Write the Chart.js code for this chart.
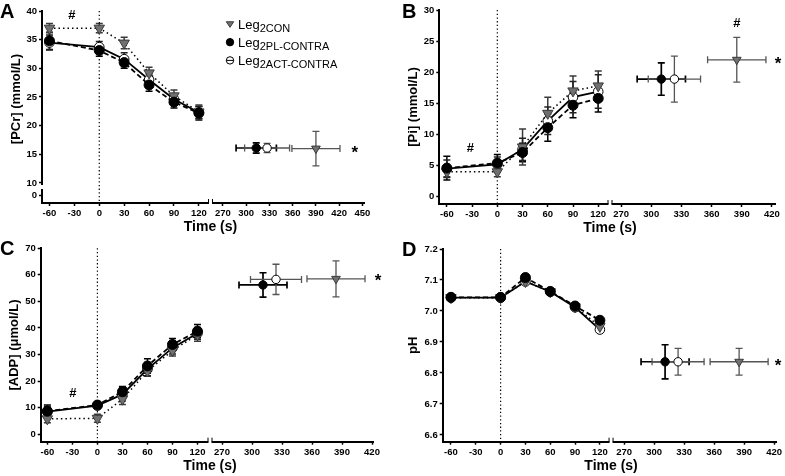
<!DOCTYPE html>
<html>
<head>
<meta charset="utf-8">
<script src="https://cdn.jsdelivr.net/npm/chart.js@4.4.1/dist/chart.umd.min.js"></script>
<style>
  html, body { margin: 0; padding: 0; background: #fff; }
  #wrap { position: relative; width: 785px; height: 476px; overflow: hidden; }
  canvas { position: absolute; }
</style>
</head>
<body>
<div id="wrap">
  <canvas id="cA" width="392" height="238" style="left:0;top:0"></canvas>
  <canvas id="cB" width="393" height="238" style="left:392px;top:0"></canvas>
  <canvas id="cC" width="392" height="238" style="left:0;top:238px"></canvas>
  <canvas id="cD" width="393" height="238" style="left:392px;top:238px"></canvas>
</div>
<script>
// ---------- données ----------
const timePts = [-60, 0, 30, 60, 90, 120];
const ticksLeft = [-60, -30, 0, 30, 60, 90, 120];
const ticksRightA = [270, 300, 330, 360, 390, 420, 450];
const ticksRight = [270, 300, 330, 360, 390, 420];
// points de fin : ordre PL, ACT, CON

// A - PCr
const pcrCon = [37.0, 37.0, 34.4, 29.2, 25.2, 22.4];
const pcrConErr = [0.8, 0.8, 1.0, 1.0, 1.0, 1.2];
const pcrPl = [34.8, 33.1, 31.0, 27.1, 24.1, 22.2];
const pcrPlErr = [1.5, 1.0, 1.0, 1.1, 1.0, 1.2];
const pcrAct = [34.5, 33.7, 31.6, 28.0, 24.6, 22.3];
const pcrActErr = [1.3, 1.0, 1.1, 1.0, 0.9, 1.0];
const pcrEndTime = [313, 327, 390];
const pcrEndTimeErr = [26, 29, 31];
const pcrEnd = [16.1, 16.1, 16.0];
const pcrEndErr = [0.9, 0.8, 3.0];
const pcrTicks = [10, 15, 20, 25, 30, 35, 40];

// B - Pi
const piCon = [4.0, 4.0, 8.0, 13.4, 17.0, 17.8];
const piConErr = [0.8, 0.8, 2.9, 2.6, 2.4, 2.4];
const piPl = [4.6, 5.4, 7.1, 11.1, 14.7, 15.8];
const piPlErr = [1.9, 1.4, 1.5, 2.2, 2.0, 2.2];
const piAct = [4.5, 5.2, 7.6, 12.2, 16.0, 16.9];
const piActErr = [1.4, 1.2, 1.8, 2.2, 2.5, 2.7];
const piEndTime = [310, 323, 385];
const piEndTimeErr = [24, 26, 29];
const piEnd = [18.9, 18.9, 22.0];
const piEndErr = [2.6, 3.7, 3.6];
const piTicks = [0, 5, 10, 15, 20, 25, 30];

// C - ADP
const adpCon = [5.8, 6.0, 13.2, 23.8, 31.5, 37.5];
const adpConErr = [1.5, 1.5, 2.0, 2.0, 2.0, 2.5];
const adpPl = [8.7, 11.0, 16.0, 25.7, 33.8, 38.8];
const adpPlErr = [2.3, 1.2, 2.0, 2.7, 2.2, 2.5];
const adpAct = [8.5, 10.8, 15.0, 24.5, 32.5, 38.0];
const adpActErr = [2.0, 1.2, 2.5, 2.5, 2.3, 2.2];
const adpEndTime = [311, 324, 384];
const adpEndTimeErr = [24, 25.5, 29];
const adpEnd = [56.2, 58.3, 58.5];
const adpEndErr = [4.6, 5.7, 6.8];
const adpTicks = [0, 10, 20, 30, 40, 50, 60, 70];

// D - pH
const phCon = [7.043, 7.043, 7.095, 7.062, 7.013, 6.950];
const phConErr = [0.005, 0.005, 0.006, 0.005, 0.006, 0.008];
const phPl = [7.044, 7.044, 7.108, 7.063, 7.016, 6.970];
const phPlErr = [0.005, 0.005, 0.006, 0.005, 0.006, 0.008];
const phAct = [7.043, 7.043, 7.095, 7.062, 7.012, 6.940];
const phActErr = [0.005, 0.005, 0.006, 0.005, 0.006, 0.008];
const phEndTime = [311, 324, 385];
const phEndTimeErr = [24, 26, 29];
const phEnd = [6.836, 6.836, 6.836];
const phEndErr = [0.055, 0.043, 0.043];
const phTicks = [6.6, 6.7, 6.8, 6.9, 7.0, 7.1, 7.2];

// ---------- styles ----------
const FONT = "'Liberation Sans', Arial, Helvetica, sans-serif";
const STYLE = {
  con: { pointStyle: 'triangle', rotation: 180, bg: '#707070', border: '#3a3a3a', dash: [1.5, 3], r: 6, rEnd: 5, err: '#3a3a3a', errEnd: '#555' },
  pl:  { pointStyle: 'circle', rotation: 0, bg: '#000', border: '#000', dash: [5, 3], r: 5, rEnd: 4.2, err: '#000', errEnd: '#000' },
  act: { pointStyle: 'circle', rotation: 0, bg: '#fff', border: '#000', dash: [], r: 4.8, rEnd: 4.2, err: '#222', errEnd: '#555' }
};

function pts(xs, ys) { return xs.map((x, i) => ({ x: x, y: ys[i] })); }

// série de gauche (-60 à 120 s)
function series(key, ys, errs) {
  const s = STYLE[key];
  return {
    label: key, data: pts(timePts, ys), errY: errs, errColor: s.err, errWidth: 1.5, cap: 3.5,
    xAxisID: 'xL', yAxisID: 'y',
    borderColor: '#000', borderWidth: key === 'con' ? 1.5 : 1.8, borderDash: s.dash,
    pointStyle: s.pointStyle, pointRotation: s.rotation, pointRadius: s.r,
    pointBackgroundColor: s.bg, pointBorderColor: s.border, pointBorderWidth: 1,
    tension: 0, clip: false
  };
}

// point de fin (partie droite de l'axe)
function endPoint(key, i, xs, xErr, ys, yErr) {
  const s = STYLE[key];
  return {
    label: key + '-end', data: [{ x: xs[i], y: ys[i] }], errX: [xErr[i]], errY: [yErr[i]],
    errColor: s.errEnd, errWidth: key === 'pl' ? 1.7 : 1.3, cap: 3.5,
    xAxisID: 'xR', yAxisID: 'y', showLine: false,
    pointStyle: s.pointStyle, pointRotation: s.rotation, pointRadius: s.rEnd,
    pointBackgroundColor: s.bg, pointBorderColor: s.border, pointBorderWidth: 1, clip: false
  };
}

function tickFont() { return { family: FONT, size: 9.5, weight: 'bold' }; }

function xScale(min, max, ticks, weight, order) {
  return {
    type: 'linear', position: 'bottom', stack: 'xs', stackWeight: weight, weight: order,
    min: min, max: max,
    afterBuildTicks: s => { s.ticks = ticks.map(v => ({ value: v })); },
    afterFit: s => { s.height = 20; },
    border: { color: '#000', width: 2 },
    grid: { drawOnChartArea: false, drawTicks: true, tickLength: 3, tickColor: '#000', tickWidth: 1.5 },
    ticks: { color: '#000', font: tickFont(), padding: 2, maxRotation: 0, autoSkip: false }
  };
}

function yScale(min, max, ticks, width, title, titlePad, dec) {
  return {
    type: 'linear', position: 'left', min: min, max: max,
    afterBuildTicks: s => { s.ticks = ticks.map(v => ({ value: v })); },
    afterFit: s => { s.width = width; },
    border: { color: '#000', width: 2 },
    grid: { drawOnChartArea: false, drawTicks: true, tickLength: 3, tickColor: '#000', tickWidth: 1.5 },
    ticks: { color: '#000', font: tickFont(), padding: 2, autoSkip: false,
             callback: v => dec ? v.toFixed(dec) : String(v) },
    title: title ? { display: true, text: title, color: '#000',
                     font: { family: FONT, size: 13, weight: 'bold' }, padding: { top: titlePad, bottom: 0 } }
                 : { display: false }
  };
}

// marqueurs pour la légende
function drawMarker(ctx, key, x, y, r) {
  const s = STYLE[key];
  ctx.save();
  ctx.fillStyle = s.bg; ctx.strokeStyle = s.border; ctx.lineWidth = 1;
  ctx.beginPath();
  if (key === 'con') {
    ctx.moveTo(x - r, y - r * 0.6); ctx.lineTo(x + r, y - r * 0.6); ctx.lineTo(x, y + r * 0.9);
    ctx.closePath();
  } else {
    ctx.arc(x, y, r, 0, Math.PI * 2);
  }
  ctx.fill(); ctx.stroke();
  if (key === 'act') { ctx.beginPath(); ctx.moveTo(x - r, y); ctx.lineTo(x + r, y); ctx.stroke(); }
  ctx.restore();
}

// barres d'erreur (x et y)
const errorBars = {
  id: 'errorBars',
  beforeDatasetsDraw(chart) {
    const ctx = chart.ctx;
    chart.data.datasets.forEach((ds, di) => {
      if (!ds.errY) return;
      const meta = chart.getDatasetMeta(di);
      const ys = chart.scales[meta.yAxisID], xs = chart.scales[meta.xAxisID];
      ctx.save();
      ctx.strokeStyle = ds.errColor; ctx.lineWidth = ds.errWidth; ctx.setLineDash([]);
      meta.data.forEach((pt, i) => {
        const v = ds.data[i], c = ds.cap;
        const y1 = ys.getPixelForValue(v.y + ds.errY[i]);
        const y2 = ys.getPixelForValue(v.y - ds.errY[i]);
        ctx.beginPath();
        ctx.moveTo(pt.x, y1); ctx.lineTo(pt.x, y2);
        ctx.moveTo(pt.x - c, y1); ctx.lineTo(pt.x + c, y1);
        ctx.moveTo(pt.x - c, y2); ctx.lineTo(pt.x + c, y2);
        if (ds.errX) {
          const x1 = xs.getPixelForValue(v.x - ds.errX[i]);
          const x2 = xs.getPixelForValue(v.x + ds.errX[i]);
          ctx.moveTo(x1, pt.y); ctx.lineTo(x2, pt.y);
          ctx.moveTo(x1, pt.y - c); ctx.lineTo(x1, pt.y + c);
          ctx.moveTo(x2, pt.y - c); ctx.lineTo(x2, pt.y + c);
        }
        ctx.stroke();
      });
      ctx.restore();
    });
  }
};

// décor : ligne pointillée à t=0, coupures d'axes, #, *, titre, lettre, légende
const panelDeco = {
  id: 'panelDeco',
  beforeDatasetsDraw(chart) {
    const ctx = chart.ctx, a = chart.chartArea;
    const x0 = chart.scales.xL.getPixelForValue(0);
    ctx.save();
    ctx.strokeStyle = '#000'; ctx.lineWidth = 1.2; ctx.setLineDash([1.3, 2.4]);
    ctx.beginPath(); ctx.moveTo(x0, a.top); ctx.lineTo(x0, a.bottom); ctx.stroke();
    ctx.restore();
  },
  afterDraw(chart, args, o) {
    const ctx = chart.ctx, a = chart.chartArea, xL = chart.scales.xL;
    ctx.save();
    // coupure de l'axe des x
    const bx = xL.right;
    ctx.fillStyle = '#fff';
    ctx.fillRect(bx - 1.5, a.bottom - 4, 3, 8);
    ctx.strokeStyle = '#000'; ctx.lineWidth = 1;
    ctx.beginPath();
    ctx.moveTo(bx - 2, a.bottom - 4); ctx.lineTo(bx - 2, a.bottom);
    ctx.moveTo(bx + 2, a.bottom - 4); ctx.lineTo(bx + 2, a.bottom);
    ctx.stroke();
    // coupure de l'axe des y (panneau A)
    if (chart.scales.yLow) {
      const by = chart.scales.y.bottom;
      ctx.fillStyle = '#fff';
      ctx.fillRect(a.left - 3, by - 2, 6, 4);
    }
    // annotations # et *
    ctx.fillStyle = '#000';
    ctx.font = 'bold 13px ' + FONT;
    ctx.textAlign = 'center';
    (o.marks || []).forEach(m => {
      const px = chart.scales[m.axis].getPixelForValue(m.x);
      const py = chart.scales.y.getPixelForValue(m.y);
      if (m.text === '*') {
        ctx.font = 'bold 17px ' + FONT;
        ctx.textBaseline = 'alphabetic';
        ctx.fillText('*', px, py + 9.5);
        ctx.font = 'bold 13px ' + FONT;
      } else {
        ctx.textBaseline = 'middle';
        ctx.fillText(m.text, px, py);
      }
    });
    // titre de l'axe des x, centré sur la coupure
    ctx.font = 'bold 14px ' + FONT;
    ctx.textBaseline = 'middle';
    ctx.fillText('Time (s)', bx, a.bottom + 24);
    // lettre du panneau
    ctx.font = 'bold 20px ' + FONT;
    ctx.textAlign = 'left'; ctx.textBaseline = 'alphabetic';
    ctx.fillText(o.letter, o.letterX, o.letterY);
    // légende (panneau A)
    if (o.legend) {
      const rows = [['con', '2CON'], ['pl', '2PL-CONTRA'], ['act', '2ACT-CONTRA']];
      rows.forEach((r, i) => {
        const y = 28.5 + i * 18.2;
        drawMarker(ctx, r[0], 230, y - 4.5, 3.7);
        ctx.fillStyle = '#000';
        ctx.font = '13px ' + FONT;
        ctx.fillText('Leg', 238, y);
        const w = ctx.measureText('Leg').width;
        ctx.font = '11px ' + FONT;
        ctx.fillText(r[1], 238 + w, y + 3);
      });
    }
    ctx.restore();
  }
};

function makePanel(id, p) {
  // le premier jeu est dessiné au-dessus
  const datasets = [
    series('pl', p.pl, p.plErr),
    series('con', p.con, p.conErr),
    series('act', p.act, p.actErr),
    endPoint('pl', 0, p.endTime, p.endTimeErr, p.end, p.endErr),
    endPoint('act', 1, p.endTime, p.endTimeErr, p.end, p.endErr),
    endPoint('con', 2, p.endTime, p.endTimeErr, p.end, p.endErr)
  ];
  const scales = {
    xL: xScale(p.xL[0], p.xL[1], ticksLeft, p.xW[0], 0),
    xR: xScale(p.xR[0], p.xR[1], p.xRTicks, p.xW[1], 1),
    y: yScale(p.y[0], p.y[1], p.yTicks, p.yWidth, p.yTitle, p.titlePad, p.dec)
  };
  if (p.yLow) {
    Object.assign(scales.y, { stack: 'ys', stackWeight: p.yLow[0], weight: 1 });
    scales.yLow = Object.assign(yScale(-1.5, 1.5, [0], p.yWidth, null, 0, 0),
                                { stack: 'ys', stackWeight: p.yLow[1], weight: 0 });
  }
  return new Chart(document.getElementById(id), {
    type: 'line',
    data: { datasets: datasets },
    options: {
      responsive: false, animation: false, events: [],
      layout: { padding: p.pad },
      plugins: {
        legend: { display: false }, tooltip: { enabled: false },
        panelDeco: { marks: p.marks, letter: p.letter, letterX: p.letterPos[0], letterY: p.letterPos[1], legend: !!p.legend }
      },
      scales: scales
    },
    plugins: [errorBars, panelDeco]
  });
}

makePanel('cA', {
  con: pcrCon, conErr: pcrConErr, pl: pcrPl, plErr: pcrPlErr, act: pcrAct, actErr: pcrActErr,
  endTime: pcrEndTime, endTimeErr: pcrEndTimeErr, end: pcrEnd, endErr: pcrEndErr,
  xL: [-69, 134], xR: [254, 452], xRTicks: ticksRightA, xW: [168.5, 153.5],
  y: [9.3, 40], yTicks: pcrTicks, yLow: [176, 16], yWidth: 42,
  yTitle: '[PCr] (mmol/L)', titlePad: 9,
  pad: { left: 0, top: 11, right: 28, bottom: 15 },
  marks: [{ axis: 'xL', x: -33, y: 39.2, text: '#' }, { axis: 'xR', x: 440, y: 16.1, text: '*' }],
  letter: 'A', letterPos: [0, 18], legend: true
});

makePanel('cB', {
  con: piCon, conErr: piConErr, pl: piPl, plErr: piPlErr, act: piAct, actErr: piActErr,
  endTime: piEndTime, endTimeErr: piEndTimeErr, end: piEnd, endErr: piEndErr,
  xL: [-69, 134], xR: [259, 423], xRTicks: ticksRight, xW: [170.7, 165],
  y: [-1.17, 30], yTicks: piTicks, yWidth: 47.3,
  yTitle: '[Pi] (mmol/L)', titlePad: 14,
  pad: { left: 0, top: 10, right: 10, bottom: 14 },
  marks: [{ axis: 'xL', x: -32, y: 7.8, text: '#' }, { axis: 'xR', x: 385, y: 27.8, text: '#' },
          { axis: 'xR', x: 426, y: 22.0, text: '*' }],
  letter: 'B', letterPos: [10, 18]
});

makePanel('cC', {
  con: adpCon, conErr: adpConErr, pl: adpPl, plErr: adpPlErr, act: adpAct, actErr: adpActErr,
  endTime: adpEndTime, endTimeErr: adpEndTimeErr, end: adpEnd, endErr: adpEndErr,
  xL: [-68, 135], xR: [258, 421], xRTicks: ticksRight, xW: [169.3, 163],
  y: [-2.8, 70], yTicks: adpTicks, yWidth: 40.7,
  yTitle: '[ADP] (\u03bcmol/L)', titlePad: 7,
  pad: { left: 0, top: 10.3, right: 19, bottom: 14.3 },
  marks: [{ axis: 'xL', x: -29.5, y: 15.2, text: '#' }, { axis: 'xR', x: 426, y: 59.2, text: '*' }],
  letter: 'C', letterPos: [0, 17]
});

makePanel('cD', {
  con: phCon, conErr: phConErr, pl: phPl, plErr: phPlErr, act: phAct, actErr: phActErr,
  endTime: phEndTime, endTimeErr: phEndTimeErr, end: phEnd, endErr: phEndErr,
  xL: [-70, 133.5], xR: [257, 422], xRTicks: ticksRight, xW: [169.3, 166],
  y: [6.578, 7.2], yTicks: phTicks, yWidth: 50.7, dec: 1,
  yTitle: 'pH', titlePad: 14,
  pad: { left: 0, top: 11, right: 7, bottom: 14.3 },
  marks: [{ axis: 'xR', x: 424, y: 6.836, text: '*' }],
  letter: 'D', letterPos: [10, 17.5]
});
</script>
</body>
</html>
